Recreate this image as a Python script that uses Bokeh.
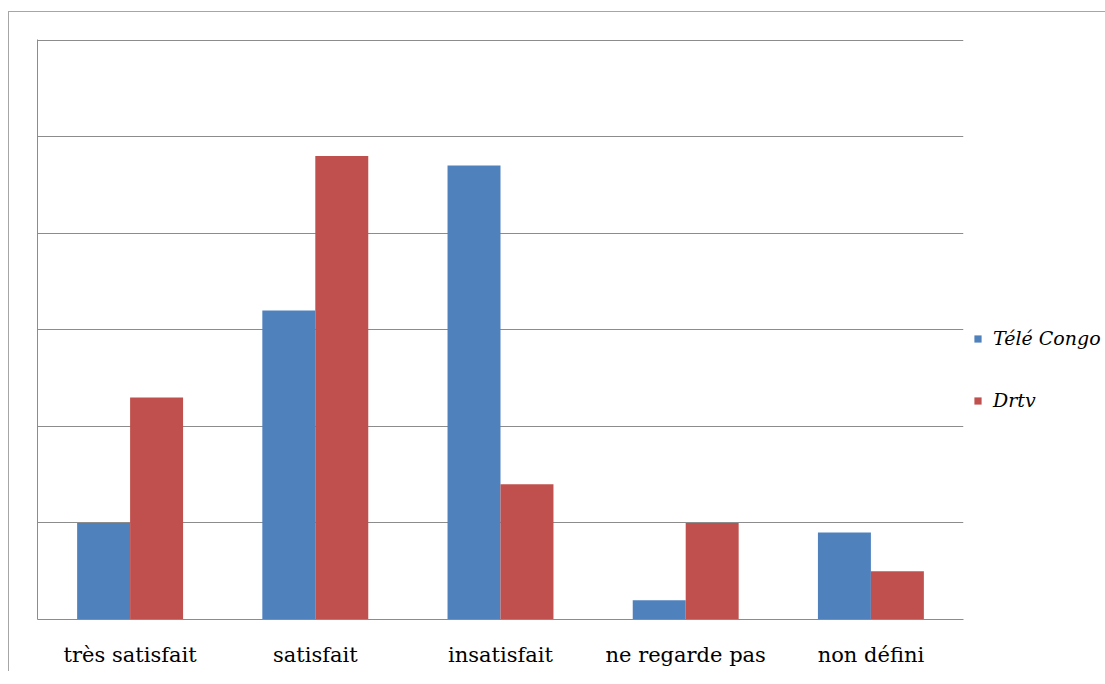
from bokeh.plotting import figure
from bokeh.models import ColumnDataSource, FactorRange, Legend, LegendItem, SingleIntervalTicker, FixedTicker, Range1d
from bokeh.transform import dodge
from bokeh.embed import file_html
from bokeh.resources import INLINE

categories = ["très satisfait", "satisfait", "insatisfait", "ne regarde pas", "non défini"]
series_names = ["Télé Congo", "Drtv"]
tele_congo = [5.0, 16.0, 23.5, 1.0, 4.5]
drtv = [11.5, 24.0, 7.0, 5.0, 2.5]

source = ColumnDataSource(data=dict(cat=categories, tele=tele_congo, drtv=drtv))

p = figure(x_range=FactorRange(*categories, range_padding=0), y_range=Range1d(0, 30.03),
           frame_width=926, frame_height=580, output_backend="svg", toolbar_location=None,
           min_border_left=28, min_border_top=27, min_border_bottom=52, min_border_right=0)
p.styles = {"border-top": "1px solid #a6a6a6", "border-left": "1px solid #a6a6a6",
            "margin-top": "11px", "margin-left": "8px"}
p.outline_line_color = None
p.background_fill_color = "white"

r1 = p.vbar(x=dodge("cat", -0.143, range=p.x_range), top="tele", width=0.286, source=source,
            fill_color="#4F81BD", line_color=None)
r2 = p.vbar(x=dodge("cat", 0.143, range=p.x_range), top="drtv", width=0.286, source=source,
            fill_color="#C0504D", line_color=None)

p.xgrid.grid_line_color = None
p.ygrid.ticker = SingleIntervalTicker(interval=5)
p.ygrid.grid_line_color = "#8c8c8c"
p.ygrid.grid_line_width = 1
p.yaxis.ticker = FixedTicker(ticks=[])
p.yaxis.major_tick_line_color = None
p.yaxis.minor_tick_line_color = None
p.yaxis.axis_line_color = "#8c8c8c"

p.xaxis.major_tick_line_color = None
p.xaxis.minor_tick_line_color = None
p.xaxis.axis_line_color = "#8c8c8c"
p.xaxis.major_label_text_font = "DejaVu Serif"
p.xaxis.major_label_text_font_size = "21px"
p.xaxis.major_label_text_color = "black"
p.xaxis.major_label_standoff = 17

legend = Legend(items=[LegendItem(label=series_names[0], renderers=[r1]),
                       LegendItem(label=series_names[1], renderers=[r2])],
                location=(10, 208))
legend.label_text_font = "DejaVu Serif"
legend.label_text_font_style = "italic"
legend.label_text_font_size = "19px"
legend.label_text_color = "black"
legend.glyph_width = 9
legend.glyph_height = 9
legend.spacing = 40
legend.padding = 0
legend.margin = 0
legend.label_standoff = 11
legend.border_line_color = None
legend.background_fill_alpha = 0
p.add_layout(legend, "right")

open("out.html", "w").write(file_html(p, INLINE))
